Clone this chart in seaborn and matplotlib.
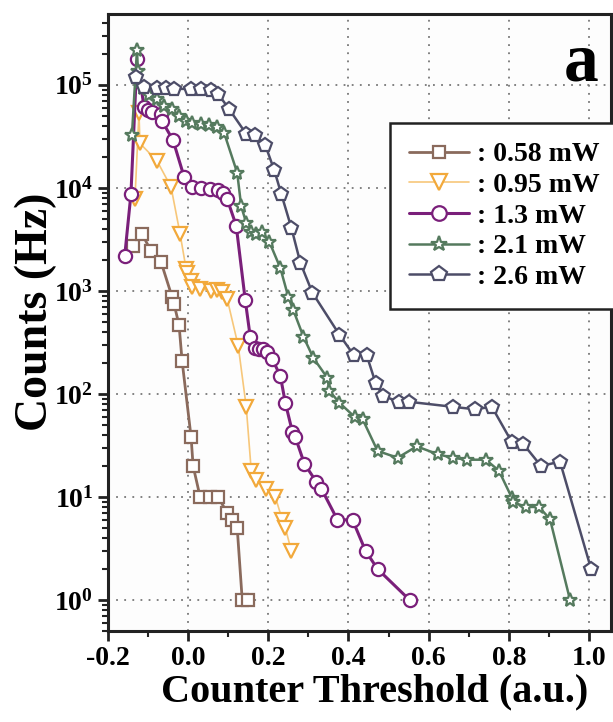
import numpy as np
import pandas as pd
import seaborn as sns
import matplotlib
matplotlib.use("Agg")
import matplotlib.pyplot as plt
from matplotlib.ticker import MultipleLocator, LogLocator, FixedLocator, FuncFormatter, NullFormatter
from matplotlib.lines import Line2D

# ---------------- data ----------------
labels = [": 0.58 mW", ": 0.95 mW", ": 1.3 mW", ": 2.1 mW", ": 2.6 mW"]

x_058 = [-0.1375, -0.115, -0.0925, -0.0675, -0.04, -0.035, -0.0225, -0.015, 0.0075, 0.0125,
         0.03, 0.055, 0.075, 0.0975, 0.11, 0.1225, 0.135, 0.15]
y_058 = [2740, 3570, 2450, 1910, 876, 746, 466, 210, 38, 20,
         10, 10, 10, 7, 6, 5, 1, 1]

x_095 = [-0.1325, -0.1225, -0.12, -0.0775, -0.0425, -0.02, -0.005, -0.0025, 0.0075, 0.01,
         0.03, 0.0575, 0.0725, 0.085, 0.0975, 0.125, 0.145, 0.1575, 0.17, 0.195,
         0.2175, 0.235, 0.2425, 0.2575]
y_095 = [7800, 53500, 27000, 18300, 10200, 3580, 1640, 1490, 1250, 1090,
         1050, 1000, 1020, 980, 836, 293, 75, 18, 14.6, 12,
         10, 6, 5, 3]

x_13 = [-0.158, -0.1425, -0.1275, -0.11, -0.1, -0.09, -0.0675, -0.065, -0.0375, -0.01,
        0.01, 0.0325, 0.055, 0.075, 0.0875, 0.0975, 0.12, 0.1425, 0.155, 0.1675,
        0.1775, 0.1875, 0.1975, 0.21, 0.23, 0.2425, 0.26, 0.2675, 0.29, 0.32,
        0.3325, 0.3725, 0.41, 0.4425, 0.4725, 0.5525]
y_13 = [2190, 8740, 178000, 61300, 57000, 54500, 52000, 44500, 29000, 12800,
        10200, 10000, 9800, 9600, 8900, 7800, 4300, 816, 357, 280,
        275, 270, 256, 217, 150, 82, 43, 38, 21, 14,
        12, 6, 6, 3, 2, 1]

x_21 = [-0.14, -0.1275, -0.125, -0.1125, -0.0975, -0.0775, -0.06, -0.04, -0.0225, -0.005,
        0.01, 0.0325, 0.0525, 0.0725, 0.09, 0.1225, 0.1325, 0.145, 0.1575, 0.17,
        0.185, 0.2025, 0.23, 0.25, 0.2625, 0.2875, 0.3125, 0.3475, 0.3525, 0.3775,
        0.415, 0.435, 0.4725, 0.5225, 0.57, 0.6225, 0.66, 0.695, 0.7425, 0.775,
        0.8075, 0.81, 0.8425, 0.875, 0.9025, 0.9525]
y_21 = [32700, 218000, 135000, 93500, 80000, 73000, 63000, 58000, 50000, 45000,
        43000, 42000, 41000, 39000, 34000, 14000, 6600, 4580, 3700, 3600,
        3700, 3000, 1670, 870, 650, 360, 223, 143, 107, 82,
        60, 57, 28, 24, 31, 26, 24, 23, 23, 18,
        9.8, 8.9, 8, 8, 6.1, 1]

x_26 = [-0.13, -0.11, -0.0775, -0.055, -0.035, 0.0075, 0.0325, 0.0575, 0.075, 0.1025,
        0.145, 0.1675, 0.1925, 0.215, 0.2325, 0.2575, 0.28, 0.31, 0.3775, 0.4125,
        0.445, 0.4675, 0.485, 0.525, 0.55, 0.66, 0.715, 0.7575, 0.8075, 0.835,
        0.88, 0.9275, 1.005]
y_26 = [120000, 95000, 93700, 93000, 91600, 91000, 90500, 89600, 81600, 58000,
        33400, 32600, 26000, 14800, 8700, 4100, 1870, 960, 375, 240,
        240, 128, 96, 84, 84, 75, 71, 75, 34, 33,
        20, 22, 2]

xs = [x_058, x_095, x_13, x_21, x_26]
ys = [y_058, y_095, y_13, y_21, y_26]

colors = ["#8a6a5c", "#f2a93b", "#7a1f7a", "#557a5e", "#4d4d68"]
line_colors = ["#8a6a5c", "#f7c77a", "#7a1f7a", "#557a5e", "#4d4d68"]
markers = ["s", "v", "o", "*", "p"]
msizes = [8, 10, 9.5, 10.5, 10.5]
lws = [2.0, 1.2, 2.2, 1.8, 1.8]

# ---------------- style ----------------
sns.set_theme(style="ticks")
plt.rcParams["font.family"] = ["Liberation Serif", "DejaVu Serif"]
plt.rcParams["font.weight"] = "bold"
plt.rcParams["text.color"] = "black"
plt.rcParams["axes.labelcolor"] = "black"
plt.rcParams["mathtext.fontset"] = "custom"
plt.rcParams["mathtext.rm"] = "Liberation Serif:bold"
plt.rcParams["mathtext.it"] = "Liberation Serif:bold"
plt.rcParams["mathtext.bf"] = "Liberation Serif:bold"

fig = plt.figure(figsize=(6.13, 7.22), dpi=100)
ax = fig.add_axes([0.176, 0.126, 0.821, 0.855])
ax.set_facecolor("#fdfdfd")

handles = []
for x, y, lab, c, lc, m, ms, lw in zip(xs, ys, labels, colors, line_colors, markers, msizes, lws):
    df = pd.DataFrame({"x": x, "y": y})
    sns.lineplot(data=df, x="x", y="y", ax=ax, color=lc, marker=m, markersize=ms,
                 mfc="white", mec=c, mew=1.6, lw=lw, sort=False, estimator=None,
                 legend=False, zorder=3)
    handles.append(Line2D([], [], color=lc, marker=m, markersize=ms + 1, mfc="white",
                          mec=c, mew=1.6, lw=lw))

ax.set_yscale("log")
ax.set_xlim(-0.2, 1.055)
ax.set_ylim(0.5, 4.9e5)

ax.xaxis.set_major_locator(MultipleLocator(0.2))
ax.xaxis.set_minor_locator(MultipleLocator(0.1))
ax.xaxis.set_major_formatter(FuncFormatter(lambda v, p: f"{v:.1f}"))
ax.yaxis.set_major_locator(FixedLocator([1, 10, 100, 1e3, 1e4, 1e5]))
ax.yaxis.set_minor_locator(LogLocator(base=10, subs=np.arange(2, 10), numticks=20))
ax.yaxis.set_minor_formatter(NullFormatter())
ax.yaxis.set_major_formatter(FuncFormatter(lambda v, p: r"$10^{%d}$" % int(round(np.log10(v)))))

ax.grid(True, which="major", color="#777777", linestyle=(0, (1, 3.5)), linewidth=1.3, zorder=0)

for s in ax.spines.values():
    s.set_linewidth(2.2)
    s.set_color("#222222")

ax.tick_params(axis="both", which="major", direction="out", length=7, width=2,
               labelsize=20, colors="#222222", labelcolor="black")
ax.tick_params(axis="both", which="minor", direction="out", length=4, width=1.5,
               colors="#222222")
for t in ax.get_xticklabels() + ax.get_yticklabels():
    t.set_fontweight("bold")

ax.set_xlabel("Counter Threshold (a.u.)", fontsize=29, fontweight="bold", color="black")
ax.set_ylabel("Counts (Hz)", fontsize=33, fontweight="bold", color="black")
ax.xaxis.set_label_coords(0.53, -0.068)
ax.yaxis.set_label_coords(-0.10, 0.517)

ax.text(0.975, 0.92, "a", transform=ax.transAxes, fontsize=50, fontweight="bold",
        ha="right", va="center", color="black")

leg = ax.legend(handles, labels, loc="upper left", bbox_to_anchor=(0.561, 0.823),
                borderaxespad=0, frameon=True, fancybox=False, handlelength=2.15,
                handletextpad=0.3, labelspacing=0.19, borderpad=0.68,
                prop={"size": 20, "weight": "bold"})
leg.get_frame().set_edgecolor("#222222")
leg.get_frame().set_linewidth(1.8)
leg.get_frame().set_facecolor("white")
leg.get_frame().set_alpha(1)
for t in leg.get_texts():
    t.set_color("black")

fig.savefig("out.png", dpi=100)
